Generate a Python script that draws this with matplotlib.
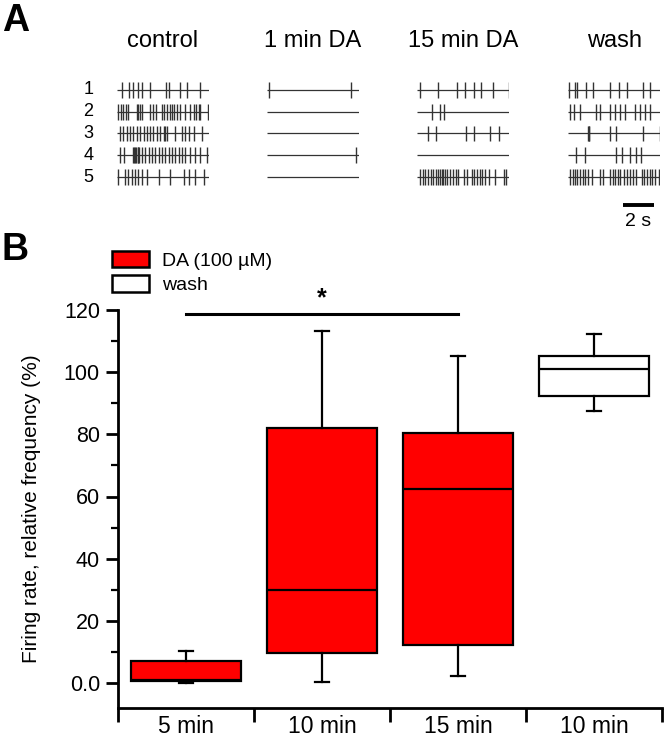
import numpy as np
import matplotlib
matplotlib.use("Agg")
import matplotlib.pyplot as plt
from matplotlib.patches import Patch
from matplotlib.ticker import FixedLocator, FixedFormatter, MultipleLocator

plt.rcParams['font.family'] = ['Liberation Sans', 'DejaVu Sans']

# ---- panel A: spike trains (seconds within a 6.1 s window) ----
conditions = ["control", "1 min DA", "15 min DA", "wash"]
trace_len = 6.1

control_spikes = [
    [0.36, 0.8, 1.09, 1.36, 1.64, 2.2, 3.24, 3.47, 4.2, 4.64, 5.49],
    [0.09, 0.27, 0.42, 0.6, 0.76, 1.31, 1.42, 1.53, 1.64, 2.2, 2.38, 2.6, 2.98, 3.09,
     3.31, 3.53, 3.64, 3.76, 3.98, 4.2, 4.53, 4.87, 5.09, 5.27, 5.42, 5.53, 6.02],
    [0.2, 0.42, 0.64, 0.87, 1.09, 1.31, 1.53, 1.76, 1.98, 2.2, 2.42, 2.64, 2.87, 3.09,
     3.2, 3.31, 3.87, 4.31, 4.53, 4.76, 5.09, 5.64],
    [0.2, 0.47, 1.09, 1.16, 1.22, 1.29, 1.36, 1.42, 1.49, 1.64, 1.87, 2.09, 2.31, 2.53,
     2.76, 2.98, 3.2, 3.42, 3.64, 3.87, 4.09, 4.31, 4.53, 4.87, 5.2, 5.53, 5.98],
    [0.09, 0.53, 0.76, 0.98, 1.2, 1.42, 1.64, 1.98, 2.76, 3.53, 4.42, 4.76, 5.2, 5.76],
]
da1_spikes = [
    [0.15, 5.6],
    [],
    [],
    [5.95],
    [],
]
da15_spikes = [
    [0.18, 1.36, 2.62, 3.18, 3.73, 4.22, 5.02, 6.05],
    [0.96, 1.51, 1.75],
    [0.73, 1.24, 3.24, 3.78, 4.84, 5.4],
    [],
    [0.18, 0.36, 0.51, 0.73, 0.89, 1.07, 1.24, 1.4, 1.51, 1.62, 1.73, 1.84, 1.96, 2.18,
     2.36, 2.58, 2.73, 3.07, 3.29, 3.62, 3.78, 3.96, 4.13, 4.29, 4.51, 4.73, 5.18, 5.73, 5.91],
]
wash_spikes = [
    [0.07, 0.44, 0.56, 1.18, 1.67, 2.78, 3.33, 3.89, 4.96, 5.4],
    [0.11, 0.38, 0.78, 1.84, 2.11, 2.78, 3.11, 3.44, 3.78, 4.44, 4.78, 5.11, 5.44],
    [1.29, 1.34, 1.4, 2.78, 3.18, 4.96, 6.05],
    [0.51, 1.11, 3.18, 3.56, 4.07, 4.51, 4.82],
    [0.11, 0.29, 0.44, 0.6, 0.78, 0.96, 1.11, 1.33, 1.56, 2.11, 2.29, 2.78, 2.96, 3.11,
     3.27, 3.44, 3.67, 3.89, 4.11, 4.29, 4.51, 4.89, 5.04, 5.22, 5.4, 5.56, 5.78, 6.0],
]
all_spikes = [control_spikes, da1_spikes, da15_spikes, wash_spikes]
row_labels = ["1", "2", "3", "4", "5"]

# ---- panel B: box plot ----
categories = ["5 min", "10 min", "15 min", "10 min"]
q1 = [0.8, 9.8, 12.2, 92.3]
med = [1.0, 30.0, 62.3, 101.0]
q3 = [7.1, 82.0, 80.5, 105.3]
whislo = [0.0, 0.4, 2.4, 87.5]
whishi = [10.3, 113.3, 105.3, 112.3]
fills = ["#ff0000", "#ff0000", "#ff0000", "#ffffff"]
legend_labels = ["DA (100 \u00b5M)", "wash"]
y_ticks = [0, 20, 40, 60, 80, 100, 120]
y_ticklabels = ["0.0", "20", "40", "60", "80", "100", "120"]
sig_pair = (1, 3)

W, H = 665, 746
fig = plt.figure(figsize=(W / 100, H / 100), dpi=100)

def fx(px):
    return px / W

def fy(py):
    return 1 - py / H

# raster axes
starts_px = [117, 266.7, 417.3, 568.3]
row_top, row_bot = 79.1, 187.9
trace_col = "#333333"
raster_axes = []
for k, (cond, spikes) in enumerate(zip(conditions, all_spikes)):
    ax = fig.add_axes([fx(starts_px[k]), fy(row_bot), 92 / W, (row_bot - row_top) / H])
    ax.set_xlim(0, trace_len)
    ax.set_ylim(5.5, 0.5)
    ax.axis("off")
    for r, times in enumerate(spikes):
        row = r + 1
        ax.hlines(row, 0, trace_len, color=trace_col, lw=0.9)
        if times:
            ax.vlines(times, row - 0.36, row + 0.36, color=trace_col, lw=1.0)
    ax.text(trace_len / 2, -1.25, cond, ha="center", va="center", fontsize=17,
            clip_on=False)
    raster_axes.append(ax)

for r, lab in enumerate(row_labels):
    raster_axes[0].text(-1.9, r + 1, lab, ha="center", va="center", fontsize=13,
                        clip_on=False)

wax = raster_axes[3]
wax.plot([3.65, 5.65], [6.3, 6.3], color="black", lw=2.8, clip_on=False,
         solid_capstyle="butt")
wax.text(4.65, 7.05, "2 s", ha="center", va="center", fontsize=14, clip_on=False)

fig.text(fx(2), fy(3), "A", fontsize=27, fontweight="bold", va="top", ha="left")
fig.text(fx(2), fy(232), "B", fontsize=27, fontweight="bold", va="top", ha="left")

# box plot axes: 120 at 310 px, 0 at 683 px
y_lo = -8.0
px_per_unit = (683 - 310) / 120
bottom_px = 683 - y_lo * px_per_unit
ax = fig.add_axes([fx(118), fy(bottom_px), fx(662) - fx(118), (bottom_px - 310) / H])
positions = np.arange(1, len(categories) + 1)
stats = []
for i in range(len(categories)):
    stats.append(dict(q1=q1[i], med=med[i], q3=q3[i], whislo=whislo[i],
                      whishi=whishi[i], fliers=[], label=categories[i]))
bp = ax.bxp(stats, positions=positions, widths=0.81, patch_artist=True,
            showfliers=False, capwidths=0.11,
            boxprops=dict(edgecolor="black", linewidth=1.6),
            medianprops=dict(color="black", linewidth=1.6),
            whiskerprops=dict(color="black", linewidth=1.6),
            capprops=dict(color="black", linewidth=1.6))
for patch, c in zip(bp["boxes"], fills):
    patch.set_facecolor(c)

ax.set_xlim(0.5, len(categories) + 0.5)
ax.set_ylim(y_lo, 120)
ax.spines["top"].set_visible(False)
ax.spines["right"].set_visible(False)
ax.spines["left"].set_linewidth(2)
ax.spines["bottom"].set_linewidth(2)

ax.xaxis.set_major_locator(FixedLocator(np.arange(0.5, len(categories) + 1, 1)))
ax.xaxis.set_major_formatter(FixedFormatter([""] * (len(categories) + 1)))
ax.xaxis.set_minor_locator(FixedLocator(positions))
ax.xaxis.set_minor_formatter(FixedFormatter(categories))
ax.tick_params(axis="x", which="major", direction="out", length=10, width=2)
ax.tick_params(axis="x", which="minor", length=0, pad=5, labelsize=16.5)

ax.yaxis.set_major_locator(FixedLocator(y_ticks))
ax.yaxis.set_major_formatter(FixedFormatter(y_ticklabels))
ax.yaxis.set_minor_locator(FixedLocator(np.arange(10, 120, 20)))
ax.tick_params(axis="y", which="major", direction="out", length=9, width=2,
               labelsize=15.5, pad=4)
ax.tick_params(axis="y", which="minor", direction="out", length=5, width=1.6)
ax.set_ylabel("Firing rate, relative frequency (%)", fontsize=15)
ax.yaxis.set_label_coords(-0.142, 0.5)

# significance bar
ax.plot(list(sig_pair), [118.8, 118.8], color="black", lw=2.2, clip_on=False)
ax.text(np.mean(sig_pair), 119.8, "*", ha="center", va="bottom", fontsize=18,
        fontweight="bold", clip_on=False)

handles = [Patch(facecolor=fills[0], edgecolor="black", linewidth=1.8),
           Patch(facecolor=fills[3], edgecolor="black", linewidth=1.8)]
fig.legend(handles, legend_labels, loc="upper left",
           bbox_to_anchor=(fx(112), fy(251)), frameon=False, fontsize=14,
           handlelength=1.9, handleheight=0.92, handletextpad=0.65,
           labelspacing=0.28, borderpad=0, borderaxespad=0)

fig.savefig("out.png", dpi=100)
